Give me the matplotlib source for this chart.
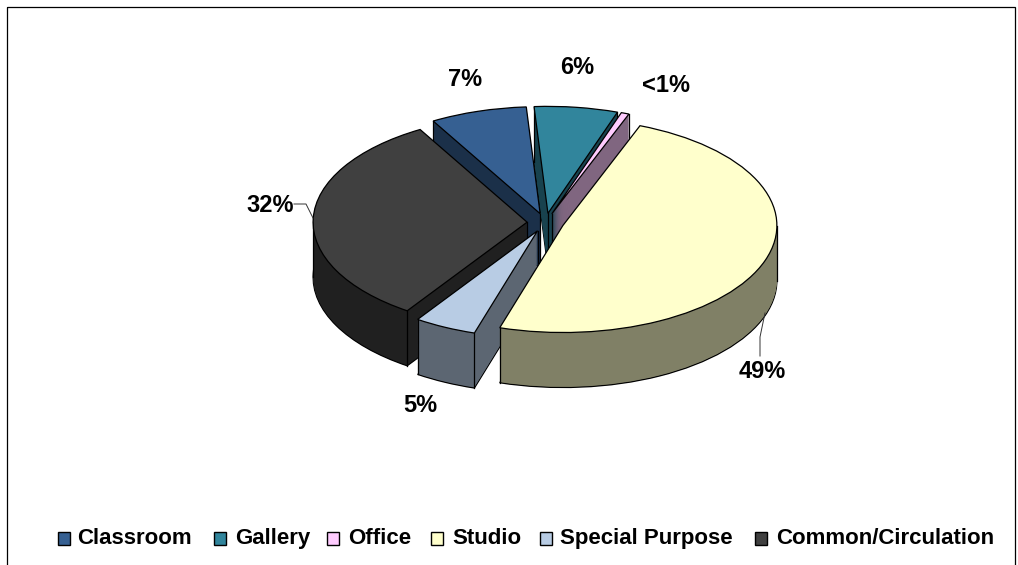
import math
import matplotlib
matplotlib.use('Agg')
import matplotlib.pyplot as plt
from matplotlib.patches import Rectangle

plt.rcParams['font.family'] = ['Liberation Sans', 'DejaVu Sans']

categories = ['Classroom', 'Gallery', 'Office', 'Studio', 'Special Purpose', 'Common/Circulation']
values = [7.3, 6.3, 0.6, 48.9, 4.7, 32.2]
pct_labels = ['7%', '6%', '<1%', '49%', '5%', '32%']
colors = ['#366092', '#31859C', '#FFCCFF', '#FFFFCC', '#B8CCE4', '#404040']
side_colors = ['#1B3049', '#18424E', '#806680', '#808066', '#5C6672', '#202020']
# back to front, slice indexes
draw_order = [0, 1, 2, 5, 4, 3]

W, H = 1018, 565
fig = plt.figure(figsize=(W / 100, H / 100), dpi=100)

# pie axes fills the figure, x and y units differ so the circle becomes an ellipse
cx, cy, rx, ry = 545.5, 222.5, 214, 107
pie_ax = fig.add_axes([0, 0, 1, 1])
depth = 55 / ry
layers = 60
pie_kw = dict(explode=[0.086] * 6, startangle=120, counterclock=False, radius=1)

for i in range(layers, 0, -1):
    lw = 0.9 if i == layers else 0
    wedges, _ = pie_ax.pie(values, colors=side_colors, center=(0, -depth * i / layers),
                           wedgeprops={'linewidth': lw, 'edgecolor': 'black'}, **pie_kw)
    for rank, idx in enumerate(draw_order):
        wedges[idx].set_zorder(10 * rank + 1)
top, _ = pie_ax.pie(values, colors=colors, center=(0, 0),
                    wedgeprops={'linewidth': 0.9, 'edgecolor': 'black', 'zorder': 100}, **pie_kw)


def edge(x, y, z):
    pie_ax.plot([x, x], [y, y - depth], color='black', lw=0.9, zorder=z)


# vertical edges, only the ones facing the viewer
for rank, idx in enumerate(draw_order):
    w = top[idx]
    z = 10 * rank + 2
    x0, y0 = w.center
    face1 = math.sin(math.radians(w.theta1 - 90)) < 0
    face2 = math.sin(math.radians(w.theta2 + 90)) < 0
    if face1 or face2:
        edge(x0, y0, z)
    for a, face in [(w.theta1, face1), (w.theta2, face2)]:
        if face or math.sin(math.radians(a)) < 0:
            edge(x0 + w.r * math.cos(math.radians(a)), y0 + w.r * math.sin(math.radians(a)), z)
    for a in (-180, 0, 180):
        if w.theta1 < a < w.theta2:
            edge(x0 + w.r * math.cos(math.radians(a)), y0, z)

pie_ax.set_aspect('auto')
pie_ax.set_xlim(-cx / rx, (W - cx) / rx)
pie_ax.set_ylim((cy - H) / ry, cy / ry)

# overlay in pixel coordinates for frame, labels and legend
ax = fig.add_axes([0, 0, 1, 1])
ax.set_xlim(0, W)
ax.set_ylim(H, 0)
ax.axis('off')

ax.add_patch(Rectangle((7, 7), 1008, 570, fill=False, ec='black', lw=0.9, clip_on=False))

label_xy = [(465, 80), (577, 67), (666, 85), (762, 371), (420, 405), (270, 205)]
for txt, (x, y) in zip(pct_labels, label_xy):
    ax.text(x, y, txt, ha='center', va='center', fontsize=17, fontweight='bold', color='black')

# leader lines
ax.plot([294, 306, 313], [204, 204, 218], color='#333333', lw=0.7)
ax.plot([760, 760, 765], [356, 337, 313], color='#333333', lw=0.7)

# legend
legend_x = [58, 214, 327, 431, 540, 755]
text_x = [77, 235, 348, 452, 560, 776]
for name, c, lx, tx in zip(categories, colors, legend_x, text_x):
    ax.add_patch(Rectangle((lx, 532), 12.5, 12.5, fc=c, ec='black', lw=1.0))
    ax.text(tx, 544, name, ha='left', va='baseline', fontsize=16, fontweight='bold')

fig.savefig('out.png', dpi=100)
